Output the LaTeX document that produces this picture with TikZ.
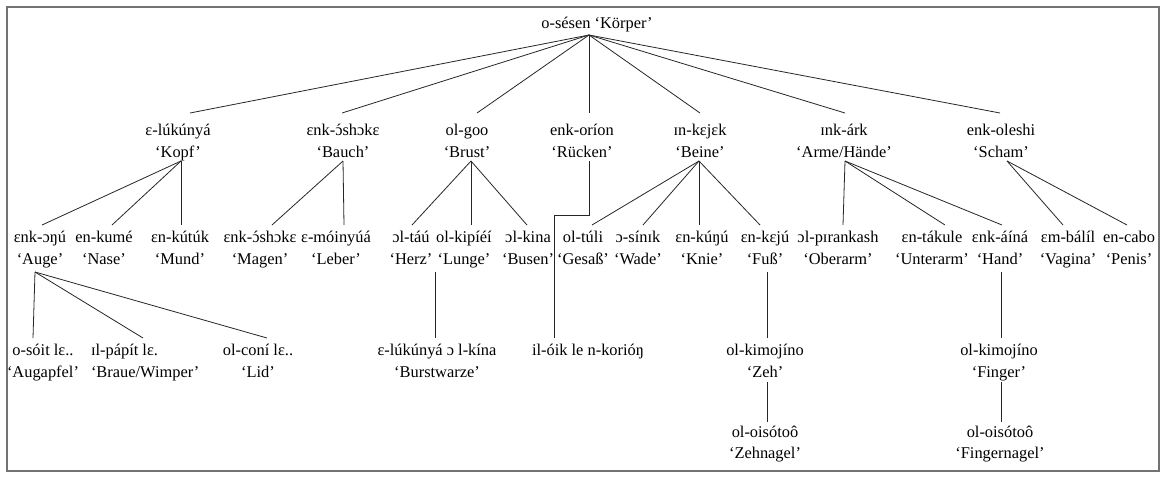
\documentclass[tikz,border=0pt]{standalone}
\usepackage{fontspec}
\setmainfont{Liberation Serif}
\usetikzlibrary{calc}
\newcommand\glfont{\fontsize{12.3pt}{14pt}\selectfont}
% open o with an acute accent centred over it
\newcommand\oac{{\ooalign{ɔ\cr\hidewidth´\hidewidth\cr}}}
\begin{document}
\begin{tikzpicture}[x=0.75pt,y=-0.75pt,
  lbl/.style={anchor=base, inner sep=0pt, outer sep=0pt, font=\glfont},
  wordA/.style={lbl, text height=16.5pt},
  wordB/.style={lbl, text height=12.75pt},
  wordC/.style={lbl, text height=11.25pt},
  glossA/.style={lbl, text depth=3pt},
  glossB/.style={lbl, text depth=6pt},
  glossC/.style={lbl, text depth=3.75pt},
  branch/.style={line width=0.6pt, black!85},
  frame/.style={line width=0.9pt, black!55}]
\useasboundingbox (0,0) rectangle (1164,476);
\draw[frame] (7,7) rectangle (1159,471);

% root
\node[lbl, text depth=5.25pt] (root) at (597,28) {o-sésen ‘Körper’};
\coordinate (apex) at ($(root.south)+(-8,0)$);

% first tier
\node[wordA] (kopf) at (178,135) {ɛ-lúkúnyá};
\node[glossA] (kopfG) at (178,157) {‘Kopf’};
\node[wordA] (bauch) at (343,135) {ɛnk-\oac shɔkɛ};
\node[glossA] (bauchG) at (343,157) {‘Bauch’};
\node[wordA] (brust) at (467,135) {ol-goo};
\node[glossA] (brustG) at (467,157) {‘Brust’};
\node[wordA] (ruecken) at (582,135) {enk-oríon};
\node[glossA] (rueckenG) at (582,157) {‘Rücken’};
\node[wordA] (beine) at (700,135) {ɪn-kɛjɛk};
\node[glossA] (beineG) at (700,157) {‘Beine’};
\node[wordA] (arme) at (844,135) {ɪnk-árk};
\node[glossA] (armeG) at (844,157) {‘Arme/Hände’};
\node[wordA] (scham) at (1001,135) {enk-oleshi};
\node[glossA] (schamG) at (1001,157) {‘Scham’};

% second tier
\node[wordB] (auge) at (40,242) {ɛnk-ɔŋú};
\node[glossB] (augeG) at (40,264) {‘Auge’};
\node[wordB] (nase) at (104,242) {en-kumé};
\node[glossB] (naseG) at (104,264) {‘Nase’};
\node[wordB] (mund) at (180,242) {ɛn-kútúk};
\node[glossB] (mundG) at (180,264) {‘Mund’};
\node[wordB] (magen) at (260,242) {ɛnk-\oac shɔkɛ};
\node[glossB] (magenG) at (260,264) {‘Magen’};
\node[wordB] (leber) at (336,242) {ɛ-móinyúá};
\node[glossB] (leberG) at (336,264) {‘Leber’};
\node[wordB] (herz) at (411,242) {ɔl-táú};
\node[glossB] (herzG) at (411,264) {‘Herz’};
\node[wordB] (lunge) at (464,242) {ol-kipíéí};
\node[glossB] (lungeG) at (464,264) {‘Lunge’};
\node[wordB] (busen) at (528,242) {ɔl-kina};
\node[glossB] (busenG) at (528,264) {‘Busen’};
\node[wordB] (gesass) at (583,242) {ol-túli};
\node[glossB] (gesassG) at (583,264) {‘Gesaß’};
\node[wordB] (wade) at (638,242) {ɔ-sínɪk};
\node[glossB] (wadeG) at (638,264) {‘Wade’};
\node[wordB] (knie) at (702,242) {ɛn-kúŋú};
\node[glossB] (knieG) at (702,264) {‘Knie’};
\node[wordB] (fuss) at (765,242) {ɛn-kɛjú};
\node[glossB] (fussG) at (765,264) {‘Fuß’};
\node[wordB] (oberarm) at (838,242) {ɔl-pɪrankash};
\node[glossB] (oberarmG) at (838,264) {‘Oberarm’};
\node[wordB] (unterarm) at (932,242) {ɛn-tákule};
\node[glossB] (unterarmG) at (932,264) {‘Unterarm’};
\node[wordB] (hand) at (1000,242) {ɛnk-áíná};
\node[glossB] (handG) at (1000,264) {‘Hand’};
\node[wordB] (vagina) at (1068,242) {ɛm-bálíl};
\node[glossB] (vaginaG) at (1068,264) {‘Vagina’};
\node[wordB] (penis) at (1129,242) {en-cabo};
\node[glossB] (penisG) at (1129,264) {‘Penis’};

% third tier
\node[wordB] (augapfel) at (43,355) {o-sóit lɛ..};
\node[glossC] (augapfelG) at (43,377) {‘Augapfel’};
\node[wordB, anchor=base west] (braue) at (91,355) {ɪl-pápít lɛ.};
\node[glossC, anchor=base west] (braueG) at (91,377) {‘Braue/Wimper’};
\node[wordB] (lid) at (258,355) {ol-coní lɛ..};
\node[glossC] (lidG) at (258,377) {‘Lid’};
\node[wordB] (burst) at (437,355) {ɛ-lúkúnyá ɔ l-kína};
\node[glossC] (burstG) at (437,377) {‘Burstwarze’};
\node[wordB] (ilo) at (588,355) {il-óik le n-korióŋ};
\node[wordB] (zeh) at (765,355) {ol-kimojíno};
\node[glossC] (zehG) at (765,377) {‘Zeh’};
\node[wordB] (finger) at (999,355) {ol-kimojíno};
\node[glossC] (fingerG) at (999,377) {‘Finger’};

% fourth tier
\node[wordC] (zehnagel) at (765,437) {ol-oisótoô};
\node[lbl] (zehnagelG) at (765,458) {‘Zehnagel’};
\node[wordC] (fnagel) at (1000,437) {ol-oisótoô};
\node[lbl] (fnagelG) at (1000,458) {‘Fingernagel’};

% branches from the root
\draw[branch] (apex) -- ($(kopf.north)+(12,0)$);
\draw[branch] (apex) -- ($(bauch.north)+(-1,0)$);
\draw[branch] (apex) -- ($(brust.north)+(10,0)$);
\draw[branch] (apex) -- ($(ruecken.north)+(7,0)$);
\draw[branch] (apex) -- (beine.north);
\draw[branch] (apex) -- ($(arme.north)+(1,0)$);
\draw[branch] (apex) -- ($(scham.north)+(-1,0)$);

% head
\draw[branch] ($(kopfG.south)+(3,0)$) -- ($(auge.north)+(2,0)$);
\draw[branch] ($(kopfG.south)+(3,0)$) -- ($(nase.north)+(8,0)$);
\draw[branch] ($(kopfG.south)+(3,0)$) -- ($(mund.north)+(1,0)$);
% belly
\draw[branch] (bauchG.south) -- ($(magen.north)+(12,0)$);
\draw[branch] (bauchG.south) -- ($(leber.north)+(8,0)$);
% chest
\draw[branch] ($(brustG.south)+(4,0)$) -- ($(herz.north)+(1,0)$);
\draw[branch] ($(brustG.south)+(4,0)$) -- ($(lunge.north)+(7,0)$);
\draw[branch] ($(brustG.south)+(4,0)$) -- ($(busen.north)+(-1,0)$);
% back
\draw[branch] ($(rueckenG.south)+(7,0)$) -- ++(0,54) -| ($(ilo.north)+(-34,0)$);
% legs
\draw[branch] ($(beineG.south)+(-1,0)$) -- ($(gesass.north)+(9,0)$);
\draw[branch] ($(beineG.south)+(-1,0)$) -- ($(wade.north)+(5,0)$);
\draw[branch] ($(beineG.south)+(-1,0)$) -- ($(knie.north)+(-3,0)$);
\draw[branch] ($(beineG.south)+(-1,0)$) -- ($(fuss.north)+(-5,0)$);
% arms
\draw[branch] ($(armeG.south)+(1,0)$) -- ($(oberarm.north)+(5,0)$);
\draw[branch] ($(armeG.south)+(1,0)$) -- ($(unterarm.north)+(13,0)$);
\draw[branch] ($(armeG.south)+(1,0)$) -- ($(hand.north)+(2,0)$);
% genitals
\draw[branch] ($(schamG.south)+(6,0)$) -- ($(vagina.north)+(-5,0)$);
\draw[branch] ($(schamG.south)+(6,0)$) -- ($(penis.north)+(-2,0)$);

% eye
\draw[branch] ($(augeG.south)+(-5,0)$) -- ($(augapfel.north)+(-10,0)$);
\draw[branch] ($(augeG.south)+(-5,0)$) -- ($(braue.north west)+(52,0)$);
\draw[branch] ($(augeG.south)+(-5,0)$) -- ($(lid.north)+(9,0)$);
% heart / breast
\draw[branch] ($(herzG.south)+(24,0)$) -- ($(burst.north)+(-2,0)$);
% foot and hand
\draw[branch] ($(fussG.south)+(2,0)$) -- ($(zeh.north)+(2,0)$);
\draw[branch] ($(zehG.south)+(2,0)$) -- ($(zehnagel.north)+(2,0)$);
\draw[branch] ($(handG.south)+(1,0)$) -- ($(finger.north)+(2,0)$);
\draw[branch] ($(fingerG.south)+(2,0)$) -- ($(fnagel.north)+(1,0)$);
\end{tikzpicture}
\end{document}
